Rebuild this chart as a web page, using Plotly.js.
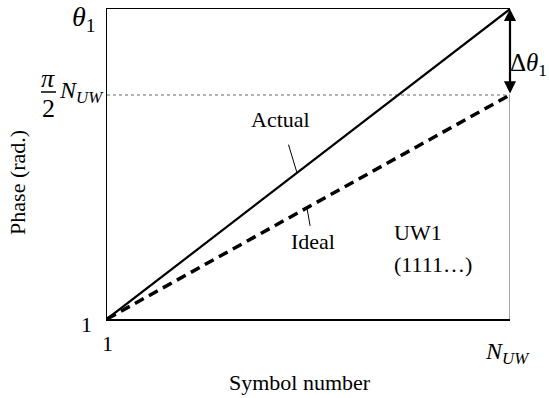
<!DOCTYPE html>
<html>
<head>
<meta charset="utf-8">
<script src="https://cdn.plot.ly/plotly-3.0.1.min.js"></script>
<style>
  html, body { margin: 0; padding: 0; background: #fff; }
  #plot { width: 549px; height: 398px; }
</style>
</head>
<body>
<div id="plot"></div>
<script>
// symbol index runs from 1 to N_UW (N_UW taken as 32 here)
const symbols = [1, 32];
// phase in radians
const actualPhase = [1, 69.2];   // ends at theta_1
const idealPhase = [1, 50.3];    // ends at pi/2 * N_UW

const serif = 'Liberation Serif, Times New Roman, serif';
const nEnd = symbols[1];
const thetaEnd = actualPhase[1];
const idealEnd = idealPhase[1];

// Lines
let actual = {
    x: symbols,
    y: actualPhase,
    mode: 'lines',
    line: {color: 'black', width: 2.2},
    name: 'Actual',
};

let ideal = {
    x: symbols,
    y: idealPhase,
    mode: 'lines',
    line: {color: 'black', width: 3.5, dash: '10px,6px'},
    name: 'Ideal',
};

// gray guide at pi/2 N_UW and the right edge under it
let guide = {
    x: [symbols[0], nEnd],
    y: [idealEnd, idealEnd],
    mode: 'lines',
    line: {color: '#9a9a9a', width: 1.5, dash: 'dot'},
    cliponaxis: false,
};

let rightEdge = {
    x: [nEnd, nEnd],
    y: [actualPhase[0], idealEnd],
    mode: 'lines',
    line: {color: '#8a8a8a', width: 1.5},
    cliponaxis: false,
};

let data = [guide, rightEdge, ideal, actual];

let f = (size) => ({family: serif, size: size, color: 'black'});

let annotations = [
    // y tick labels
    {xref: 'paper', yref: 'y', x: 0, y: thetaEnd, xanchor: 'right', yanchor: 'middle',
     xshift: -9, yshift: -9, text: '<i>θ</i><sub>1</sub>', showarrow: false, font: f(28)},
    {xref: 'paper', yref: 'y', x: 0, y: idealEnd, xanchor: 'center', yanchor: 'middle',
     xshift: -59, yshift: 16, text: '<i>π</i>', showarrow: false, font: f(26)},
    {xref: 'paper', yref: 'y', x: 0, y: idealEnd, xanchor: 'center', yanchor: 'middle',
     xshift: -59, yshift: -14, text: '2', showarrow: false, font: f(26)},
    {xref: 'paper', yref: 'y', x: 0, y: idealEnd, xanchor: 'right', yanchor: 'middle',
     xshift: -1, yshift: 3, text: '<i>N</i><sub><i>UW</i></sub>', showarrow: false, font: f(24)},
    {xref: 'paper', yref: 'y', x: 0, y: actualPhase[0], xanchor: 'right', yanchor: 'middle',
     xshift: -13, yshift: -5, text: '1', showarrow: false, font: f(22)},
    // x tick labels
    {xref: 'x', yref: 'y', x: symbols[0], y: actualPhase[0], xanchor: 'center', yanchor: 'middle',
     yshift: -24, text: '1', showarrow: false, font: f(22)},
    {xref: 'x', yref: 'y', x: nEnd, y: actualPhase[0], xanchor: 'center', yanchor: 'middle',
     xshift: -3, yshift: -34, text: '<i>N</i><sub><i>UW</i></sub>', showarrow: false, font: f(24)},
    // axis titles
    {xref: 'paper', yref: 'paper', x: 0.479, y: 0, xanchor: 'center', yanchor: 'middle',
     yshift: -63, text: 'Symbol number', showarrow: false, font: f(22)},
    {xref: 'paper', yref: 'paper', x: (18 - 107) / 403, y: 0.439, xanchor: 'center', yanchor: 'middle',
     textangle: -90, text: 'Phase (rad.)', showarrow: false, font: f(22)},
    // labels with leaders
    {xref: 'x', yref: 'y', x: 15.6, y: 33.3, ax: -16, ay: -53, text: 'Actual',
     showarrow: true, arrowhead: 0, arrowwidth: 1, arrowcolor: 'black', startstandoff: 12, font: f(22)},
    {xref: 'x', yref: 'y', x: 16.38, y: 25.46, ax: 6, ay: 34, text: 'Ideal',
     showarrow: true, arrowhead: 0, arrowwidth: 1, arrowcolor: 'black', startstandoff: 2, font: f(22)},
    {xref: 'paper', yref: 'paper', x: 0.707, y: 0.278, xanchor: 'left', yanchor: 'middle',
     text: 'UW1', showarrow: false, font: f(22)},
    {xref: 'paper', yref: 'paper', x: 0.707, y: 0.175, xanchor: 'left', yanchor: 'middle',
     text: '(1111…)', showarrow: false, font: f(22)},
    // delta theta arrow
    {xref: 'x', yref: 'y', axref: 'x', ayref: 'y', x: nEnd, y: thetaEnd, ax: nEnd, ay: idealEnd,
     text: '', showarrow: true, arrowhead: 2, arrowside: 'end+start', arrowsize: 1.1,
     arrowwidth: 2.2, arrowcolor: 'black'},
    {xref: 'paper', yref: 'y', x: 1, y: 57.1, xanchor: 'left', yanchor: 'middle',
     xshift: -2, text: 'Δ<i>θ</i><sub>1</sub>', showarrow: false, font: f(25)},
];

let layout = {
    width: 549,
    height: 398,
    margin: {l: 107, r: 39, t: 9, b: 79},
    paper_bgcolor: 'white',
    plot_bgcolor: 'white',
    showlegend: false,
    xaxis: {
        range: [symbols[0], nEnd],
        showgrid: false,
        zeroline: false,
        showticklabels: false,
        ticks: '',
        showline: true,
        linecolor: 'black',
        linewidth: 1.5,
        mirror: true,
    },
    yaxis: {
        range: [actualPhase[0], thetaEnd],
        showgrid: false,
        zeroline: false,
        showticklabels: false,
        ticks: '',
        showline: true,
        linecolor: 'black',
        linewidth: 1.5,
    },
    shapes: [
        // fraction bar of pi/2
        {type: 'line', xref: 'paper', yref: 'paper',
         x0: (41 - 107) / 403, x1: (56 - 107) / 403,
         y0: (319 - 92) / 310, y1: (319 - 92) / 310,
         line: {color: 'black', width: 1.5}},
    ],
    annotations: annotations,
};

Plotly.newPlot('plot', data, layout, {staticPlot: true});
</script>
</body>
</html>
